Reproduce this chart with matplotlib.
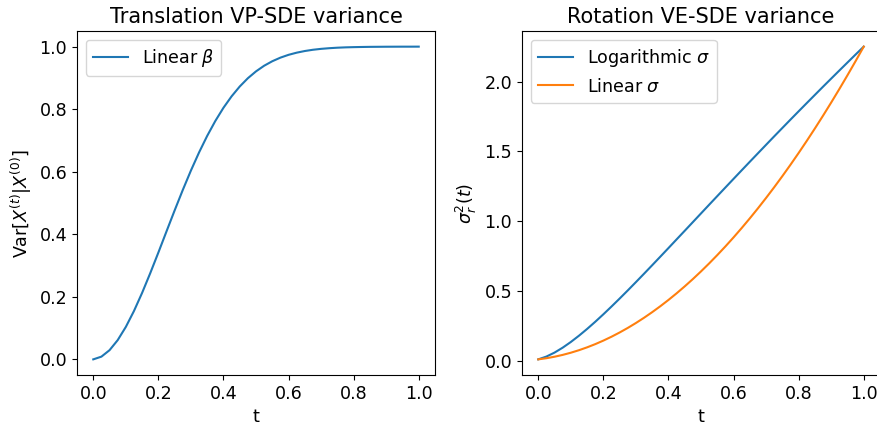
import matplotlib
matplotlib.use('Agg')
import matplotlib.pyplot as plt

plt.rcParams['font.size'] = 12.6

# t grid and values
t = [0.0, 0.025, 0.05, 0.075, 0.1, 0.125, 0.15, 0.175, 0.2, 0.225,
     0.25, 0.275, 0.3, 0.325, 0.35, 0.375, 0.4, 0.425, 0.45, 0.475,
     0.5, 0.525, 0.55, 0.575, 0.6, 0.625, 0.65, 0.675, 0.7, 0.725,
     0.75, 0.775, 0.8, 0.825, 0.85, 0.875, 0.9, 0.925, 0.95, 0.975, 1.0]

# translation VP-SDE variance, linear beta
var_linear_beta = [0.0, 0.0087, 0.0294, 0.0615, 0.1037, 0.1546, 0.2125, 0.2755,
                   0.3416, 0.4092, 0.4763, 0.5416, 0.6037, 0.6616, 0.7146,
                   0.7623, 0.8045, 0.8411, 0.8725, 0.8990, 0.9209, 0.9389,
                   0.9533, 0.9648, 0.9738, 0.9807, 0.9860, 0.9900, 0.9929,
                   0.9950, 0.9966, 0.9977, 0.9984, 0.9989, 0.9993, 0.9995,
                   0.9997, 0.9998, 0.9999, 0.9999, 1.0]

# rotation VE-SDE variance
var_log_sigma = [0.01, 0.0301, 0.0586, 0.0938, 0.1344, 0.1794, 0.2278, 0.2791,
                 0.3328, 0.3884, 0.4455, 0.5038, 0.5633, 0.6235, 0.6843,
                 0.7456, 0.8072, 0.8692, 0.9310, 0.9932, 1.0553, 1.1175,
                 1.1794, 1.2412, 1.3028, 1.3642, 1.4254, 1.4862, 1.5470,
                 1.6076, 1.6675, 1.7274, 1.7868, 1.8458, 1.9045, 1.9631,
                 2.0210, 2.0788, 2.1362, 2.1934, 2.25]
var_lin_sigma = [0.01, 0.0182, 0.0289, 0.0420, 0.0576, 0.0756, 0.0961, 0.1190,
                 0.1444, 0.1722, 0.2025, 0.2352, 0.2704, 0.3080, 0.3481,
                 0.3906, 0.4356, 0.4830, 0.5329, 0.5852, 0.64, 0.6972,
                 0.7569, 0.8190, 0.8836, 0.9506, 1.0201, 1.0920, 1.1664,
                 1.2432, 1.3225, 1.4042, 1.4884, 1.5750, 1.6641, 1.7556,
                 1.8496, 1.9460, 2.0449, 2.1462, 2.25]

W, H = 877, 424
fig = plt.figure(figsize=(W / 100, H / 100), dpi=100)
ax1 = fig.add_axes([77 / W, (H - 375) / H, 358 / W, 344 / H])
ax2 = fig.add_axes([522 / W, (H - 375) / H, 358 / W, 344 / H])

ax1.plot(t, var_linear_beta, label=r'Linear $\beta$')
ax1.set_title('Translation VP-SDE variance', fontsize=15)
ax1.set_xlabel('t')
ax1.set_ylabel(r'Var[$X^{(t)}|X^{(0)}$]')
ax1.legend(loc='upper left')

ax2.plot(t, var_log_sigma, label=r'Logarithmic $\sigma$')
ax2.plot(t, var_lin_sigma, label=r'Linear $\sigma$')
ax2.set_title('Rotation VE-SDE variance', fontsize=15)
ax2.set_xlabel('t')
ax2.set_ylabel(r'$\sigma_r^2(t)$')
ax2.legend(loc='upper left')

fig.savefig('out.png', dpi=100)
plt.close()
